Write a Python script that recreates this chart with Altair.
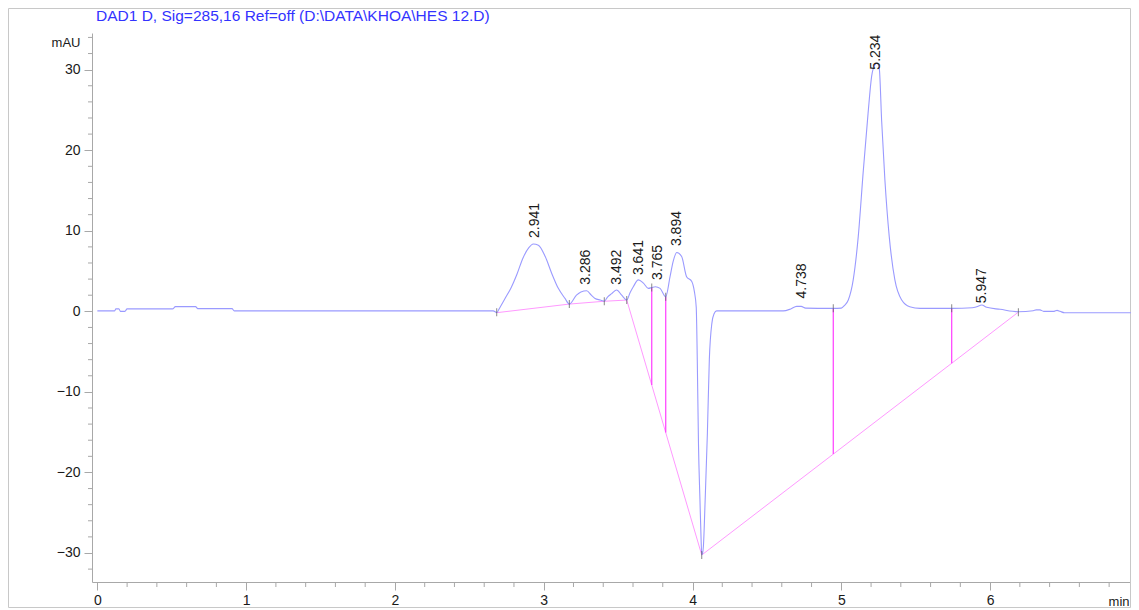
import altair as alt
import pandas as pd

# ---- chromatogram trace (time in min, signal in mAU) ----
trace_t = [0.0, 0.115, 0.125, 0.145, 0.155, 0.185, 0.2, 0.505, 0.525, 0.66, 0.675, 0.905, 0.92, 2.66,
           2.686, 2.70, 2.74, 2.78, 2.82, 2.86, 2.90, 2.93, 2.964, 3.01, 3.054, 3.098, 3.143, 3.172,
           3.22, 3.25, 3.289, 3.32, 3.345, 3.38, 3.407, 3.43, 3.457, 3.49, 3.524, 3.558,
           3.58, 3.602, 3.636, 3.67, 3.703, 3.726, 3.75, 3.782, 3.82,
           3.849, 3.87, 3.894, 3.927, 3.96, 3.995, 4.012, 4.025, 4.032, 4.04, 4.05, 4.058, 4.062,
           4.068, 4.073, 4.085, 4.1, 4.113, 4.13, 4.145, 4.162,
           4.61, 4.66, 4.70, 4.73, 4.76, 4.92, 4.946, 5.0, 5.02, 5.047, 5.08, 5.114, 5.148, 5.18,
           5.204, 5.226, 5.24, 5.255, 5.271, 5.293, 5.322, 5.36, 5.406, 5.46, 5.53, 5.742,
           5.88, 5.91, 5.944, 5.977, 6.067, 6.19, 6.29, 6.31, 6.335, 6.36, 6.43, 6.45, 6.47, 6.5, 6.95]
trace_y = [0.05, 0.05, 0.3, 0.3, 0.0, 0.0, 0.3, 0.3, 0.58, 0.58, 0.33, 0.33, 0.05, 0.05,
           -0.15, 0.3, 1.6, 2.9, 4.6, 6.6, 7.9, 8.35, 8.2, 6.8, 4.7, 2.85, 1.6, 0.9,
           2.0, 2.4, 2.55, 2.0, 1.6, 1.4, 1.25, 1.8, 2.2, 2.65, 2.0, 1.4,
           2.3, 3.05, 3.9, 3.5, 2.85, 2.95, 3.05, 2.85, 1.8,
           4.3, 6.2, 7.3, 6.8, 4.3, 3.7, 2.5, 0.5, -6.0, -16.4, -23.4, -28.5, -30.2,
           -30.0, -29.2, -23.4, -15.1, -6.0, -1.5, -0.3, 0.05,
           0.05, 0.3, 0.62, 0.62, 0.4, 0.37, 0.37, 0.4, 0.7, 1.4, 3.9, 9.3, 17.5, 24.6,
           29.2, 30.6, 30.8, 30.2, 23.7, 16.3, 9.3, 3.9, 1.4, 0.57, 0.37, 0.37,
           0.45, 0.57, 0.78, 0.5, 0.25, -0.05, 0.07, 0.18, 0.18, 0.0, 0.0, 0.12, 0.0, -0.17, -0.17]

# ---- integration baseline ----
base_t = [2.684, 3.172, 3.407, 3.558, 4.062, 6.19]
base_y = [-0.17, 0.9, 1.25, 1.4, -30.25, -0.1]

# ---- drop lines ----
drop_t = [3.726, 3.82, 4.946, 5.742]
drop_top = [2.95, 1.8, 0.37, 0.37]
drop_bot = [-9.15, -15.05, -17.7, -6.44]

# ---- integration event markers ----
mark_t = [2.684, 3.172, 3.407, 3.558, 3.726, 3.82, 4.062, 4.946, 5.742, 6.19]
mark_y = [-0.1, 0.9, 1.25, 1.4, 2.95, 1.8, -30.25, 0.37, 0.37, -0.1]

# ---- peak labels ----
peak_t = [2.941, 3.286, 3.492, 3.641, 3.765, 3.894, 4.738, 5.234, 5.947]
peak_label_y = [9.1, 3.3, 3.3, 4.5, 3.9, 8.1, 1.6, 30.0, 1.0]
peak_text = ["2.941", "3.286", "3.492", "3.641", "3.765", "3.894", "4.738", "5.234", "5.947"]

# ---- axes ----
x_major = [0, 1, 2, 3, 4, 5, 6]
x_minor = [0.2, 0.4, 0.6, 0.8, 1.2, 1.4, 1.6, 1.8, 2.2, 2.4, 2.6, 2.8, 3.2, 3.4, 3.6, 3.8,
           4.2, 4.4, 4.6, 4.8, 5.2, 5.4, 5.6, 5.8, 6.2, 6.4, 6.6, 6.8]
y_major = [-30, -20, -10, 0, 10, 20, 30]
y_minor = [-32, -28, -26, -24, -22, -18, -16, -14, -12, -8, -6, -4, -2,
           2, 4, 6, 8, 12, 14, 16, 18, 22, 24, 26, 28, 32, 34]
x_domain = [-0.036, 6.947]
y_domain = [-33.6, 34.55]

TITLE = "DAD1 D, Sig=285,16 Ref=off (D:\\DATA\\KHOA\\HES 12.D)"
FONT = "Liberation Sans"
W, H = 1039, 549
AXC = "#a8a8a8"

trace_df = pd.DataFrame({"t": trace_t, "y": trace_y})
base_df = pd.DataFrame({"t": base_t, "y": base_y})
drop_df = pd.DataFrame({"t": drop_t, "top": drop_top, "bot": drop_bot})
mark_df = pd.DataFrame({"t": mark_t, "y": mark_y})
lab_df = pd.DataFrame({"t": peak_t, "y": peak_label_y, "txt": peak_text})
xminor_df = pd.DataFrame({"t": x_minor})
yminor_df = pd.DataFrame({"y": y_minor})

xs = alt.Scale(domain=x_domain, nice=False, zero=False)
ys = alt.Scale(domain=y_domain, nice=False, zero=False)

axis_common = dict(
    domainColor=AXC, tickColor=AXC, labelColor="#1a1a1a", labelFont=FONT,
    labelFontSize=14, grid=False, titleFont=FONT, titleFontSize=13, titleFontWeight="normal",
    titleColor="#1a1a1a", tickSize=8, labelOverlap=False, labelFlush=False, format="d",
)

x_axis = alt.Axis(
    values=x_major, title="min", titleAngle=0, titleAlign="right", titleBaseline="middle",
    titleX=W - 2, titleY=19, labelPadding=3, **axis_common,
)
y_axis = alt.Axis(
    values=y_major, title="mAU", titleAngle=0, titleAlign="right", titleBaseline="middle",
    titleX=-12, titleY=9, labelPadding=4, **axis_common,
)

X = alt.X("t:Q", scale=xs, axis=x_axis)
Y = alt.Y("y:Q", scale=ys, axis=y_axis)

frame = alt.Chart(alt.Data(values=[{}])).mark_rect(
    fill=None, stroke="#c8c8c8", strokeWidth=1
).encode(
    x=alt.value(-83.5), x2=alt.value(W - 0.5), y=alt.value(-24.5), y2=alt.value(H + 25.5)
)

title = alt.Chart(alt.Data(values=[{}])).mark_text(
    text=TITLE, align="left", baseline="middle", font=FONT, fontSize=15.5, color="#3333ff"
).encode(x=alt.value(4), y=alt.value(-17))

xminor = alt.Chart(xminor_df).mark_rule(color=AXC, strokeWidth=1).encode(
    x=X, y=alt.value(H), y2=alt.value(H + 5)
)
yminor = alt.Chart(yminor_df).mark_rule(color=AXC, strokeWidth=1).encode(
    y=Y, x=alt.value(-4), x2=alt.value(0)
)

baseline = alt.Chart(base_df).mark_line(color="#ff99ff", strokeWidth=1).encode(x=X, y=Y)

drops = alt.Chart(drop_df).mark_rule(color="#ff3cff", strokeWidth=1.2).encode(
    x=X, y=alt.Y("top:Q", scale=ys, axis=y_axis), y2="bot:Q"
)

trace = alt.Chart(trace_df).mark_line(
    color="#9a9aff", strokeWidth=1.1, interpolate="monotone"
).encode(x=X, y=Y)

marks = alt.Chart(mark_df).mark_tick(
    orient="vertical", color="#555555", size=8, thickness=1
).encode(x=X, y=Y)

labels = alt.Chart(lab_df).mark_text(
    angle=270, align="left", baseline="middle", font=FONT, fontSize=14, color="#1a1a1a"
).encode(x=X, y=Y, text="txt:N")

chart = alt.layer(frame, title, xminor, yminor, baseline, drops, trace, marks, labels).properties(
    width=W, height=H,
    padding={"left": 84, "top": 25, "right": 0, "bottom": 26},
    autosize="none",
).configure_view(stroke=None)

chart.save("out.html", embed_options={"renderer": "svg", "actions": False})
